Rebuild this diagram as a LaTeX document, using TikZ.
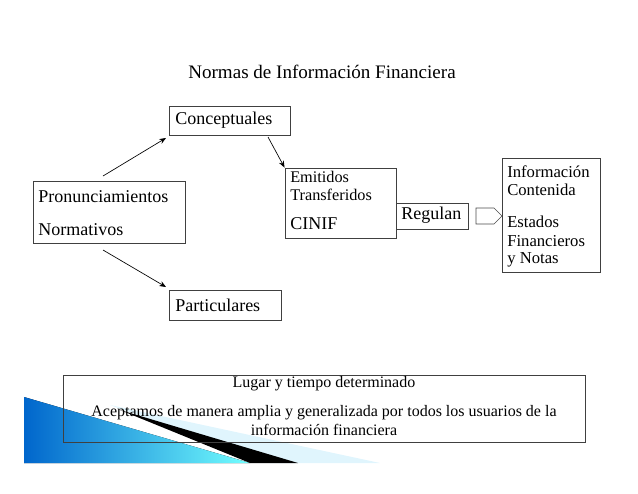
\documentclass[tikz,border=0pt]{standalone}
\usepackage{fontspec}
\setmainfont{Liberation Serif}
\usetikzlibrary{arrows.meta,shapes.arrows}
\begin{document}
\begin{tikzpicture}[x=0.75pt,y=-0.75pt,
  box/.style={draw=black!75,line width=0.7pt},
  txt/.style={font=\fontsize{13.5}{15}\selectfont,inner sep=0pt,anchor=west},
  stxt/.style={font=\fontsize{12.5}{14}\selectfont,inner sep=0pt,anchor=west},
  ctxt/.style={font=\fontsize{12}{14}\selectfont,inner sep=0pt},
  conn/.style={-{Stealth[length=5pt,width=4pt]},line width=0.5pt}]
\useasboundingbox (0,0) rectangle (638,493);
% decoration
\fill[left color=cyan!50!blue!80!black, right color=cyan!55] (24,397) -- (24,463) -- (250,463) -- cycle;
\fill[cyan!12] (110,405) -- (380,463) -- (270,463) -- cycle;
\fill[black] (120,410) -- (298,463) -- (250,463) -- cycle;
\node[font=\fontsize{14.3}{16}\selectfont] (title) at (322,72) {Normas de Información Financiera};
\node[box,minimum width=121*0.75pt,minimum height=29*0.75pt] (con) at (229.5,120.5) {};
\node[txt] at (175,120.5) {Conceptuales};
\node[box,minimum width=152*0.75pt,minimum height=62*0.75pt] (pro) at (109,212) {};
\node[txt] at (38,197) {Pronunciamientos};
\node[txt] at (38,230) {Normativos};
\node[box,minimum width=112*0.75pt,minimum height=30*0.75pt] (par) at (225,305) {};
\node[txt] at (175,305) {Particulares};
\node[box,minimum width=111*0.75pt,minimum height=70*0.75pt] (emi) at (340.5,203) {};
\node[stxt,font=\fontsize{12.2}{14}\selectfont] at (290,177) {Emitidos};
\node[stxt,font=\fontsize{12.2}{14}\selectfont] at (290,195) {Transferidos};
\node[txt] at (290,224) {CINIF};
\node[box,minimum width=72*0.75pt,minimum height=26*0.75pt] (reg) at (432,216) {};
\node[txt] at (401,215) {Regulan};
\node[box,minimum width=98*0.75pt,minimum height=114*0.75pt] (inf) at (551,215) {};
\node[stxt] at (507,172) {Información};
\node[stxt] at (507,190) {Contenida};
\node[stxt] at (507,222) {Estados};
\node[stxt] at (507,241) {Financieros};
\node[stxt] at (507,260) {y Notas};
\node[single arrow,draw=black!70,fill=white,minimum height=26*0.75pt,minimum width=16*0.75pt,single arrow head extend=0pt,inner sep=3pt] (blk) at (485,216) {};
\node[box,minimum width=522*0.75pt,minimum height=67*0.75pt] (bot) at (324,408.5) {};
\node[ctxt] at (324,384) {Lugar y tiempo determinado};
\node[ctxt] at (324,413) {Aceptamos de manera amplia y generalizada por todos los usuarios de la};
\node[ctxt] at (324,430) {información financiera};
\coordinate (a1) at (103,176);
\coordinate (a2) at (268,137);
\coordinate (a3) at (103,250);
\draw[conn] (a1) -- (166,138);
\draw[conn] (a2) -- (emi.north west);
\draw[conn] (a3) -- (166,287);
\end{tikzpicture}
\end{document}
